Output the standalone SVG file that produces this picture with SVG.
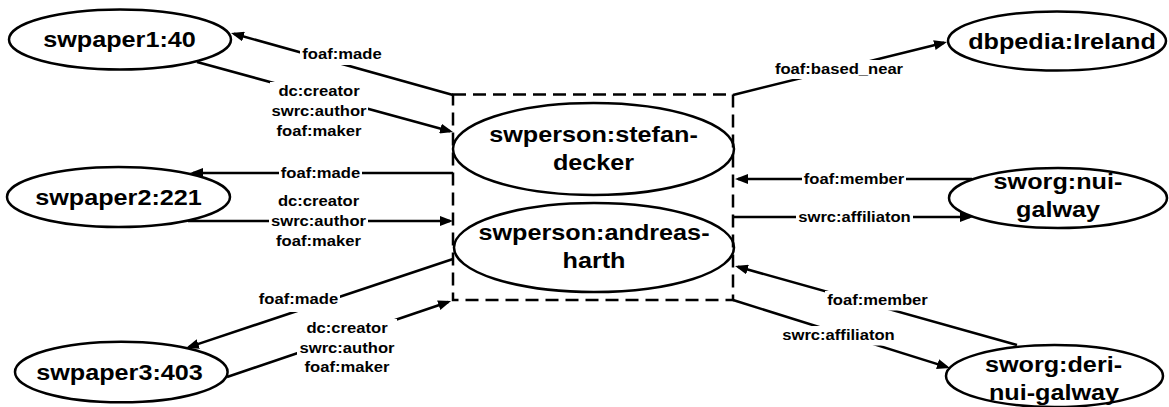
<svg xmlns="http://www.w3.org/2000/svg" width="1169" height="407" viewBox="0 0 1169 407">
<defs>
<marker id="ah" markerWidth="14" markerHeight="10" refX="10" refY="5" orient="auto" markerUnits="userSpaceOnUse">
<path d="M0,0 L13,5 L0,10 z" fill="#000"/>
</marker>
</defs>
<style>
.node ellipse{fill:#fff;stroke:#000;stroke-width:2.5}
.nt{font-family:"Liberation Sans",Arial,sans-serif;font-weight:bold;font-size:22px;fill:#000;text-anchor:middle}
.et{font-family:"Liberation Sans",Arial,sans-serif;font-weight:bold;font-size:14px;fill:#000;text-anchor:middle}
.edge{fill:none;stroke:#000;stroke-width:2.5;marker-end:url(#ah)}
.bg{fill:#fff;stroke:none}
.grp{fill:none;stroke:#000;stroke-width:2.5;stroke-dasharray:13 7}
</style>
<rect x="0" y="0" width="1169" height="407" fill="#fff"/>

<g id="node-stefan" class="node">
<ellipse cx="593.5" cy="149" rx="140.5" ry="46"/>
<text class="nt" x="593.5" y="141.5" textLength="208.6" lengthAdjust="spacingAndGlyphs">swperson:stefan-</text>
<text class="nt" x="593.5" y="169.5" textLength="81.2" lengthAdjust="spacingAndGlyphs">decker</text>
</g>
<g id="node-andreas" class="node">
<ellipse cx="594" cy="247.5" rx="140" ry="44.5"/>
<text class="nt" x="594" y="240" textLength="231.1" lengthAdjust="spacingAndGlyphs">swperson:andreas-</text>
<text class="nt" x="594" y="268" textLength="63" lengthAdjust="spacingAndGlyphs">harth</text>
</g>
<g id="group-box">
<rect class="grp" x="453" y="94.5" width="280" height="205.5"/>
</g>

<g id="connectors">
<path class="edge" d="M453,95 L233.9,33.8"/>
<path class="edge" d="M197,62 L450.1,131.2"/>
<path class="edge" d="M453,173 L193,173"/>
<path class="edge" d="M188,221 L450,221"/>
<path class="edge" d="M453,259 L188.8,347.1"/>
<path class="edge" d="M227,377 L448.2,302"/>
<path class="edge" d="M733,95 L944.1,42.7"/>
<path class="edge" d="M972,179 L738,179"/>
<path class="edge" d="M733,217 L970,217"/>
<path class="edge" d="M1017,345 L737.9,266.8"/>
<path class="edge" d="M733,300 L947.1,367.1"/>

<rect class="bg" x="300" y="44" width="84" height="21"/>
<text class="et" x="342" y="59" textLength="79.3" lengthAdjust="spacingAndGlyphs">foaf:made</text>

<rect class="bg" x="270" y="82" width="98" height="59"/>
<text class="et" x="319" y="96" textLength="81.2" lengthAdjust="spacingAndGlyphs">dc:creator</text>
<text class="et" x="319" y="116" textLength="95" lengthAdjust="spacingAndGlyphs">swrc:author</text>
<text class="et" x="319" y="136" textLength="84.9" lengthAdjust="spacingAndGlyphs">foaf:maker</text>

<rect class="bg" x="279" y="163" width="83" height="20"/>
<text class="et" x="320.5" y="178" textLength="79.3" lengthAdjust="spacingAndGlyphs">foaf:made</text>

<rect class="bg" x="269" y="191" width="99" height="60"/>
<text class="et" x="318.5" y="206" textLength="81.2" lengthAdjust="spacingAndGlyphs">dc:creator</text>
<text class="et" x="318.5" y="226" textLength="95" lengthAdjust="spacingAndGlyphs">swrc:author</text>
<text class="et" x="318.5" y="246" textLength="84.9" lengthAdjust="spacingAndGlyphs">foaf:maker</text>

<rect class="bg" x="257" y="290" width="83" height="22"/>
<text class="et" x="298.5" y="304" textLength="79.3" lengthAdjust="spacingAndGlyphs">foaf:made</text>

<rect class="bg" x="297" y="319" width="100" height="58"/>
<text class="et" x="347" y="333" textLength="81.2" lengthAdjust="spacingAndGlyphs">dc:creator</text>
<text class="et" x="347" y="352.5" textLength="95" lengthAdjust="spacingAndGlyphs">swrc:author</text>
<text class="et" x="347" y="372" textLength="84.9" lengthAdjust="spacingAndGlyphs">foaf:maker</text>

<rect class="bg" x="773" y="60" width="132" height="19"/>
<text class="et" x="839" y="74" textLength="128.2" lengthAdjust="spacingAndGlyphs">foaf:based_near</text>

<rect class="bg" x="802" y="170" width="104" height="19"/>
<text class="et" x="854" y="184" textLength="100.5" lengthAdjust="spacingAndGlyphs">foaf:member</text>

<rect class="bg" x="796" y="207.5" width="117" height="19"/>
<text class="et" x="854.5" y="221.5" textLength="112.5" lengthAdjust="spacingAndGlyphs">swrc:affiliaton</text>

<rect class="bg" x="825" y="291" width="105" height="19.5"/>
<text class="et" x="877.5" y="305" textLength="100.5" lengthAdjust="spacingAndGlyphs">foaf:member</text>

<rect class="bg" x="780" y="326" width="117" height="19.5"/>
<text class="et" x="838.5" y="340" textLength="112.5" lengthAdjust="spacingAndGlyphs">swrc:affiliaton</text>
</g>

<g id="node-swpaper1" class="node">
<ellipse cx="120" cy="39.5" rx="111" ry="30"/>
<text class="nt" x="119.5" y="47" textLength="152.7" lengthAdjust="spacingAndGlyphs">swpaper1:40</text>
</g>
<g id="node-swpaper2" class="node">
<ellipse cx="118.5" cy="197" rx="111.5" ry="30"/>
<text class="nt" x="118.5" y="205" textLength="166.7" lengthAdjust="spacingAndGlyphs">swpaper2:221</text>
</g>
<g id="node-swpaper3" class="node">
<ellipse cx="121.3" cy="372" rx="106.3" ry="30.3"/>
<text class="nt" x="119.5" y="379.5" textLength="166.7" lengthAdjust="spacingAndGlyphs">swpaper3:403</text>
</g>
<g id="node-ireland" class="node">
<ellipse cx="1057" cy="41" rx="109" ry="29.5"/>
<text class="nt" x="1062" y="48.5" textLength="187.6" lengthAdjust="spacingAndGlyphs">dbpedia:Ireland</text>
</g>
<g id="node-nui-galway" class="node">
<ellipse cx="1058" cy="198" rx="109" ry="30"/>
<text class="nt" x="1058" y="188.5" textLength="128.8" lengthAdjust="spacingAndGlyphs">sworg:nui-</text>
<text class="nt" x="1058" y="217" textLength="84" lengthAdjust="spacingAndGlyphs">galway</text>
</g>
<g id="node-deri" class="node">
<ellipse cx="1054.5" cy="376" rx="108.5" ry="31"/>
<text class="nt" x="1053.5" y="372" textLength="137.2" lengthAdjust="spacingAndGlyphs">sworg:deri-</text>
<text class="nt" x="1054" y="400" textLength="130.2" lengthAdjust="spacingAndGlyphs">nui-galway</text>
</g>
</svg>
